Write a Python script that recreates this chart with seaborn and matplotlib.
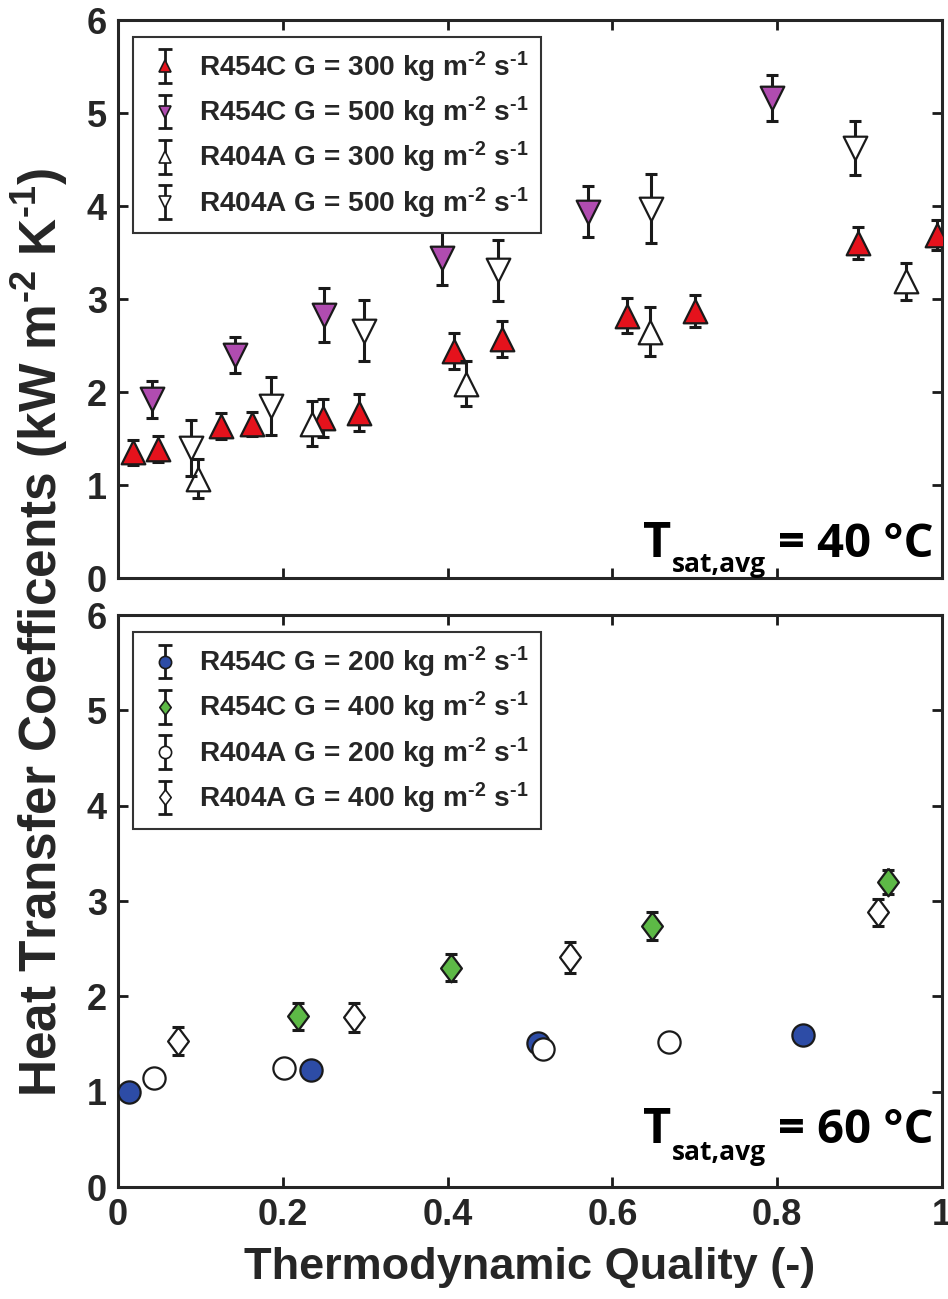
import matplotlib
matplotlib.use("Agg")
import matplotlib.pyplot as plt
from matplotlib.legend_handler import HandlerErrorbar
from matplotlib.container import ErrorbarContainer
from matplotlib.lines import Line2D
from matplotlib.collections import LineCollection
import seaborn as sns

# ---- top panel, Tsat,avg = 40 C ----
r454c_300_x = [0.018, 0.049, 0.125, 0.163, 0.249, 0.293, 0.408, 0.466, 0.618, 0.700, 0.898, 0.994]
r454c_300_y = [1.35, 1.39, 1.63, 1.66, 1.72, 1.78, 2.44, 2.57, 2.82, 2.87, 3.60, 3.69]
r454c_300_e = [0.13, 0.14, 0.14, 0.13, 0.20, 0.20, 0.19, 0.19, 0.19, 0.17, 0.17, 0.16]

r454c_500_x = [0.041, 0.142, 0.250, 0.393, 0.571, 0.794]
r454c_500_y = [1.92, 2.40, 2.83, 3.44, 3.94, 5.16]
r454c_500_e = [0.20, 0.19, 0.29, 0.29, 0.27, 0.25]

r404a_300_x = [0.097, 0.236, 0.423, 0.646, 0.957]
r404a_300_y = [1.07, 1.66, 2.09, 2.65, 3.19]
r404a_300_e = [0.21, 0.24, 0.24, 0.26, 0.20]

r404a_500_x = [0.088, 0.186, 0.298, 0.461, 0.647, 0.895]
r404a_500_y = [1.40, 1.85, 2.66, 3.31, 3.97, 4.62]
r404a_500_e = [0.30, 0.31, 0.33, 0.33, 0.37, 0.29]

# ---- bottom panel, Tsat,avg = 60 C ----
r454c_200_x = [0.013, 0.234, 0.510, 0.832]
r454c_200_y = [1.00, 1.23, 1.51, 1.59]
r454c_200_e = [0.03, 0.03, 0.03, 0.03]

r454c_400_x = [0.218, 0.404, 0.648, 0.935]
r454c_400_y = [1.79, 2.30, 2.74, 3.20]
r454c_400_e = [0.14, 0.14, 0.15, 0.13]

r404a_200_x = [0.044, 0.202, 0.516, 0.669]
r404a_200_y = [1.14, 1.25, 1.45, 1.52]
r404a_200_e = [0.03, 0.03, 0.03, 0.03]

r404a_400_x = [0.073, 0.287, 0.549, 0.923]
r404a_400_y = [1.53, 1.78, 2.41, 2.88]
r404a_400_e = [0.15, 0.15, 0.16, 0.14]

# U+2010 hyphen keeps the short dash of the original superscripts
top_labels = ["R454C G = 300 kg m$^{\u20102}$ s$^{\u20101}$", "R454C G = 500 kg m$^{\u20102}$ s$^{\u20101}$",
              "R404A G = 300 kg m$^{\u20102}$ s$^{\u20101}$", "R404A G = 500 kg m$^{\u20102}$ s$^{\u20101}$"]
bot_labels = ["R454C G = 200 kg m$^{\u20102}$ s$^{\u20101}$", "R454C G = 400 kg m$^{\u20102}$ s$^{\u20101}$",
              "R404A G = 200 kg m$^{\u20102}$ s$^{\u20101}$", "R404A G = 400 kg m$^{\u20102}$ s$^{\u20101}$"]
tsat_values = ["40", "60"]
x_ticks = [0, 0.2, 0.4, 0.6, 0.8, 1]
x_tick_labels = ["0", "0.2", "0.4", "0.6", "0.8", "1"]
y_ticks = [0, 1, 2, 3, 4, 5, 6]

sns.set_theme(style="ticks")
plt.rcParams["font.family"] = ["Liberation Sans", "DejaVu Sans"]
plt.rcParams["font.weight"] = "bold"
plt.rcParams["axes.labelweight"] = "bold"
plt.rcParams["mathtext.fontset"] = "custom"
plt.rcParams["mathtext.rm"] = "Liberation Sans:bold"
plt.rcParams["mathtext.bf"] = "Liberation Sans:bold"
plt.rcParams["mathtext.it"] = "Liberation Sans:bold"
plt.rcParams["mathtext.default"] = "bf"

diamond = [(0, 1), (0.75, 0), (0, -1), (-0.75, 0), (0, 1)]
INK = "#1a1a1a"


def draw_series(ax, x, y, e, marker, fc, ms, z, label):
    ax.errorbar(x, y, yerr=e, fmt="none", ecolor=INK, elinewidth=2.2,
                capsize=4.5, capthick=2.2, zorder=z)
    sns.scatterplot(x=x, y=y, marker=marker, s=ms ** 2, color=fc, edgecolor=INK,
                    linewidth=1.6, zorder=z + 1, ax=ax, legend=False)
    # legend proxy: marker + vertical bar + caps
    mk = Line2D([], [], marker=marker, ms=ms * 0.55, mfc=fc, mec=INK, mew=1.2, ls="none")
    cap = Line2D([], [], marker="_", ms=10, mew=2.0, color=INK, ls="none")
    bar = LineCollection([], colors=INK, linewidths=2.0)
    return ErrorbarContainer((mk, (cap, cap), (bar,)), has_xerr=False, has_yerr=True,
                             label=label)


def style_axes(ax):
    ax.set_xlim(0, 1)
    ax.set_ylim(0, 6)
    ax.set_xticks(x_ticks, x_tick_labels)
    ax.set_yticks(y_ticks)
    ax.tick_params(direction="in", top=True, right=True, length=7, width=2,
                   labelsize=26, pad=8, color=INK, labelcolor="#262626")
    for sp in ax.spines.values():
        sp.set_linewidth(2.2)
        sp.set_color("#262626")
        sp.set_visible(True)


def tsat_text(ax, temp, yb, ys):
    ax.text(0.637, yb, "T", transform=ax.transAxes, fontsize=35,
            family="Open Sans", weight="bold", color="black")
    ax.text(0.672, ys, "sat,avg", transform=ax.transAxes, fontsize=19,
            family="Open Sans", weight="bold", color="black")
    ax.text(0.801, yb, "= " + temp + " \u00b0C", transform=ax.transAxes, fontsize=34,
            family="Open Sans", weight="bold", color="black")


def add_legend(ax, handles, top):
    leg = ax.legend(handles=handles, loc="upper left", bbox_to_anchor=(0.018, top),
                    borderaxespad=0, fontsize=20.2, handlelength=1.4, handletextpad=0.5,
                    borderpad=0.45, labelspacing=0.36, fancybox=False, framealpha=1,
                    edgecolor="#333333",
                    handler_map={ErrorbarContainer: HandlerErrorbar(yerr_size=0.6)})
    leg.get_frame().set_linewidth(1.5)


fig = plt.figure(figsize=(9.48, 12.99), dpi=100)
ax1 = fig.add_axes([0.1245, 0.555, 0.869, 0.4296])
ax2 = fig.add_axes([0.1245, 0.0862, 0.869, 0.4403])

h1 = draw_series(ax1, r454c_300_x, r454c_300_y, r454c_300_e, "^", "#E5121C", 17, 2, top_labels[0])
h2 = draw_series(ax1, r454c_500_x, r454c_500_y, r454c_500_e, "v", "#B04CB0", 17, 4, top_labels[1])
h3 = draw_series(ax1, r404a_300_x, r404a_300_y, r404a_300_e, "^", "white", 17, 6, top_labels[2])
h4 = draw_series(ax1, r404a_500_x, r404a_500_y, r404a_500_e, "v", "white", 17, 8, top_labels[3])
style_axes(ax1)
ax1.tick_params(labelbottom=False)
add_legend(ax1, [h1, h2, h3, h4], 0.9695)
tsat_text(ax1, tsat_values[0], 0.038, 0.011)

g1 = draw_series(ax2, r454c_200_x, r454c_200_y, r454c_200_e, "o", "#2D4CA6", 16, 2, bot_labels[0])
g2 = draw_series(ax2, r454c_400_x, r454c_400_y, r454c_400_e, diamond, "#5DB946", 20, 4, bot_labels[1])
g3 = draw_series(ax2, r404a_200_x, r404a_200_y, r404a_200_e, "o", "white", 16, 6, bot_labels[2])
g4 = draw_series(ax2, r404a_400_x, r404a_400_y, r404a_400_e, diamond, "white", 20, 8, bot_labels[3])
style_axes(ax2)
add_legend(ax2, [g1, g2, g3, g4], 0.970)
tsat_text(ax2, tsat_values[1], 0.077, 0.047)
ax2.set_xlabel("Thermodynamic Quality (-)", fontsize=32.5, labelpad=10, color="#262626",
               fontweight="bold")

fig.text(0.042, 0.5135, "Heat Transfer Coefficents (kW m$^{\u20102}$ K$^{\u20101}$)", rotation=90,
         ha="center", va="center", fontsize=37, color="#262626")

fig.savefig("out.png", dpi=100)
